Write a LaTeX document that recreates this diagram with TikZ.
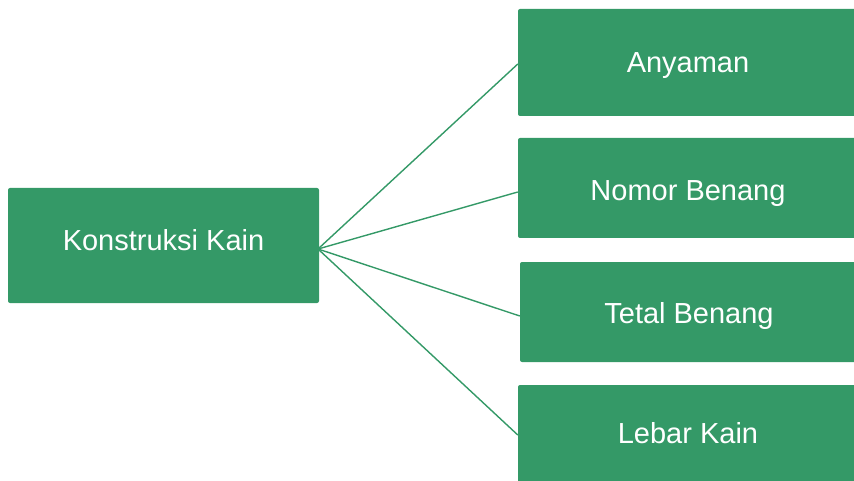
\documentclass[tikz,border=0pt]{standalone}
\usepackage{fontspec}
\setmainfont{Liberation Sans}
\definecolor{boxgreen}{RGB}{52,153,103}
\begin{document}
\begin{tikzpicture}[x=1pt,y=-1pt,
  gbox/.style={fill=boxgreen,rounded corners=2pt,text=white,inner sep=0pt,
    font=\fontsize{29}{33}\selectfont,text height=20.8pt,text depth=0pt},
  conn/.style={draw=boxgreen,line width=1.4pt}]
\useasboundingbox (0,0) rectangle (854,481);
\clip (0,0) rectangle (854,481);
\node[gbox,minimum width=311pt,minimum height=115pt,text depth=11pt] (k) at (163.5,245.5) {Konstruksi Kain};
\node[gbox,minimum width=340pt,minimum height=107pt] (a) at (688,62.5) {Anyaman};
\node[gbox,minimum width=340pt,minimum height=100pt,text height=24.8pt] (n) at (688,188) {Nomor Benang};
\node[gbox,minimum width=338pt,minimum height=100pt,text height=23.8pt] (t) at (689,312) {Tetal Benang};
\node[gbox,minimum width=340pt,minimum height=100pt,text depth=4pt] (l) at (688,435) {Lebar Kain};
\coordinate (hub) at (318,249);
\draw[conn] (hub) -- ([yshift=-1.5pt]a.west);
\draw[conn] (hub) -- ([yshift=-4pt]n.west);
\draw[conn] (hub) -- ([yshift=-4pt]t.west);
\draw[conn] (hub) -- (l.west);
\end{tikzpicture}
\end{document}
